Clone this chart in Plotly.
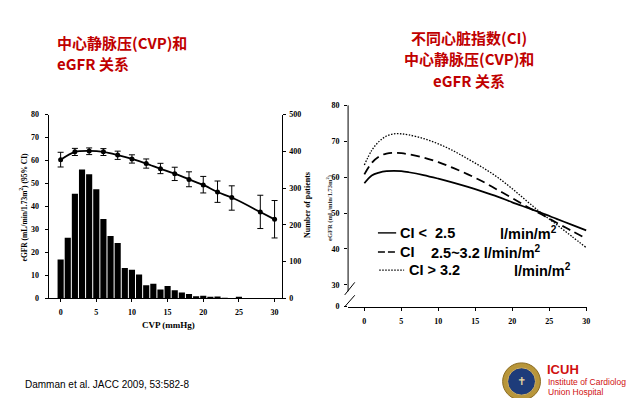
import plotly.graph_objects as go

W, H = 634, 398

# ---------------- data ----------------
# left chart: histogram of patients per CVP bin (right axis) and eGFR mean with 95% CI
cvp_bins = list(range(0, 26))
patients = [106, 165, 285, 351, 338, 297, 216, 170, 151, 83, 78, 65, 36, 40, 24, 34,
            22, 16, 12, 6, 7, 3, 5, 1, 0, 4]

cvp_pts = [0, 2, 4, 6, 8, 10, 12, 14, 16, 18, 20, 22, 24, 28, 30]
egfr_mean = [60.4, 63.8, 64.2, 63.8, 62.4, 60.7, 58.7, 56.4, 54.3, 51.8, 49.4, 46.3, 43.9, 37.6, 34.4]
egfr_upper = [63.6, 65.3, 65.5, 65.2, 64.1, 62.5, 60.7, 58.8, 57.1, 55.1, 53.1, 51.1, 49.0, 44.9, 42.6]
egfr_lower = [57.2, 62.2, 62.6, 62.2, 60.5, 58.9, 56.7, 54.3, 51.3, 48.6, 45.9, 41.8, 38.4, 30.4, 26.3]

left_xticks = [0, 5, 10, 15, 20, 25, 30]
left_yticks = [0, 10, 20, 30, 40, 50, 60, 70, 80]
right_axis_ticks = [0, 100, 200, 300, 400, 500]

# right chart: eGFR vs CVP by cardiac index group
cvp_curve = [0, 1, 2, 3, 4, 5, 6, 8, 10, 12, 14, 16, 18, 20, 22, 24, 26, 28, 30]
egfr_ci_low = [58.3, 60.5, 61.3, 61.7, 61.8, 61.7, 61.4, 60.6, 59.6, 58.5, 57.3, 56.0, 54.6, 53.0, 51.5, 50.0, 48.4, 46.8, 45.2]
egfr_ci_mid = [60.8, 64.0, 65.8, 66.6, 66.8, 66.7, 66.4, 65.5, 64.2, 62.6, 60.8, 58.8, 56.5, 54.2, 51.8, 49.6, 47.3, 45.1, 42.9]
egfr_ci_high = [63.4, 67.5, 70.0, 71.5, 72.1, 72.1, 71.8, 70.8, 69.3, 67.4, 65.1, 62.7, 60.0, 56.8, 53.3, 49.9, 46.8, 43.6, 40.4]

ci_names = ["CI <\u00a0\u00a02.5", "CI", "CI > 3.2"]
ci_units = ["l/min/m<sup>2</sup>", "2.5~3.2 l/min/m<sup>2</sup>", "l/min/m<sup>2</sup>"]

right_xticks = [0, 5, 10, 15, 20, 25, 30]
right_yticks = [24, 30, 40, 50, 60, 70, 80]
right_yticktext = ["0", "30", "40", "50", "60", "70", "80"]

# ---------------- helpers ----------------
def px(x):
    return x / W

def py(y):
    return 1 - y / H

RED = "#C00000"
SERIF = "Liberation Serif"
CJK = "Noto Sans CJK SC"
SANS = "Liberation Sans"

fig = go.Figure()

fig.add_trace(go.Bar(
    x=cvp_bins, y=patients, yaxis="y2", xaxis="x",
    marker=dict(color="black", line=dict(width=0)), width=0.86,
    showlegend=False,
))

fig.add_trace(go.Scatter(
    x=cvp_pts, y=egfr_mean, xaxis="x", yaxis="y",
    mode="lines+markers",
    line=dict(color="black", width=1.8, shape="spline", smoothing=0.8),
    marker=dict(color="black", size=5),
    error_y=dict(type="data", symmetric=False,
                 array=[u - m for u, m in zip(egfr_upper, egfr_mean)],
                 arrayminus=[m - l for m, l in zip(egfr_mean, egfr_lower)],
                 color="black", thickness=1, width=3),
    showlegend=False,
))

fig.add_trace(go.Scatter(
    x=cvp_curve, y=egfr_ci_low, xaxis="x2", yaxis="y3", mode="lines",
    line=dict(color="black", width=1.7, shape="spline"), showlegend=False))
fig.add_trace(go.Scatter(
    x=cvp_curve, y=egfr_ci_mid, xaxis="x2", yaxis="y3", mode="lines",
    line=dict(color="black", width=1.8, dash="9px,5px", shape="spline"), showlegend=False))
fig.add_trace(go.Scatter(
    x=cvp_curve, y=egfr_ci_high, xaxis="x2", yaxis="y3", mode="lines",
    line=dict(color="black", width=1.3, dash="1.5px,1.5px", shape="spline"), showlegend=False))

tickfont = dict(family=SERIF, size=8, color="black", weight="bold")
axis_common = dict(showgrid=False, zeroline=False, showline=True, linecolor="black",
                   linewidth=1, ticks="outside", ticklen=3, tickwidth=1,
                   tickcolor="black", tickfont=tickfont)

shapes = []
# right chart y axis line (broken)
shapes.append(dict(type="line", xref="x2 domain", yref="y3", x0=0, x1=0, y0=28.2, y1=80.1,
                   line=dict(color="black", width=1)))
# break marks
shapes.append(dict(type="line", xref="x2 domain", yref="y3", x0=-0.014, x1=0.028, y0=27.2, y1=30.7,
                   line=dict(color="black", width=1)))
shapes.append(dict(type="line", xref="x2 domain", yref="y3", x0=-0.014, x1=0.028, y0=23.9, y1=27.1,
                   line=dict(color="black", width=1)))

# legend line samples for right chart
leg_rows_y = [226, 245.5, 264]
leg_dash = ["solid", "7px,3px", "1.5px,1.5px"]
leg_x = [(371.7, 390), (371.7, 390), (373, 398)]
leg_w = [1.4, 1.4, 1.2]
for (x0, x1), yy, d, lw in zip(leg_x, leg_rows_y, leg_dash, leg_w):
    shapes.append(dict(type="line", xref="paper", yref="paper", x0=px(x0), x1=px(x1),
                       y0=py(yy), y1=py(yy), line=dict(color="black", width=lw, dash=d)))

# logo
shapes.append(dict(type="circle", xref="paper", yref="paper",
                   x0=px(497), x1=px(535), y0=py(397), y1=py(359),
                   fillcolor="#B8963A", line=dict(color="#8A6A20", width=1)))
shapes.append(dict(type="circle", xref="paper", yref="paper",
                   x0=px(502), x1=px(530), y0=py(392), y1=py(364),
                   fillcolor="#1E3C7A", line=dict(color="#D4B060", width=1)))

annotations = []
# titles
annotations.append(dict(text="<b>中心静脉压(CVP)和</b>", x=px(47), y=py(31), xref="paper", yref="paper",
                        xanchor="left", yanchor="middle", showarrow=False,
                        font=dict(family=CJK, size=15, color=RED)))
annotations.append(dict(text="<b>eGFR 关系</b>", x=px(47), y=py(53), xref="paper", yref="paper",
                        xanchor="left", yanchor="middle", showarrow=False,
                        font=dict(family=CJK, size=15, color=RED)))
for t, yy in zip(["不同心脏指数(CI)", "中心静脉压(CVP)和", "eGFR 关系"], [26, 48, 70]):
    annotations.append(dict(text="<b>" + t + "</b>", x=px(463), y=py(yy), xref="paper", yref="paper",
                            xanchor="center", yanchor="middle", showarrow=False,
                            font=dict(family=CJK, size=15, color=RED)))

# axis titles (left chart)
annotations.append(dict(text="<b>eGFR (mL/min/1.73m<sup>2</sup>) (95% CI)</b>", x=px(15), y=py(199),
                        xref="paper", yref="paper", textangle=-90, showarrow=False,
                        xanchor="center", yanchor="middle",
                        font=dict(family=SERIF, size=7.5, color="black")))
annotations.append(dict(text="<b>Number of patients</b>", x=px(301), y=py(198),
                        xref="paper", yref="paper", textangle=-90, showarrow=False,
                        xanchor="center", yanchor="middle",
                        font=dict(family=SERIF, size=8, color="black")))
annotations.append(dict(text="<b>CVP (mmHg)</b>", x=px(161), y=py(320),
                        xref="paper", yref="paper", showarrow=False,
                        xanchor="center", yanchor="middle",
                        font=dict(family=SERIF, size=9, color="black")))
# right chart y title (faint, at the edge)
annotations.append(dict(text="<b>eGFR (mL/min/1.73m<sup>2</sup>)</b>", x=px(323), y=py(200),
                        xref="paper", yref="paper", textangle=-90, showarrow=False,
                        xanchor="center", yanchor="middle",
                        font=dict(family=SERIF, size=6.5, color="#333333")))

# right chart legend text
name_x = [392, 392, 401]
unit_x = [492, 423, 506]
for nm, un, yy, nx, ux in zip(ci_names, ci_units, leg_rows_y, name_x, unit_x):
    annotations.append(dict(text="<b>" + nm + "</b>", x=px(nx), y=py(yy), xref="paper", yref="paper",
                            xanchor="left", yanchor="middle", showarrow=False,
                            font=dict(family=SANS, size=14.5, color="black")))
    annotations.append(dict(text="<b>" + un + "</b>", x=px(ux), y=py(yy), xref="paper", yref="paper",
                            xanchor="left", yanchor="middle", showarrow=False,
                            font=dict(family=SANS, size=14.5, color="black")))

# footer
annotations.append(dict(text="Damman et al. JACC 2009, 53:582-8", x=px(15), y=py(381),
                        xref="paper", yref="paper", xanchor="left", yanchor="middle",
                        showarrow=False, font=dict(family=SANS, size=10, color="black")))
annotations.append(dict(text="<b>ICUH</b>", x=px(540), y=py(366), xref="paper", yref="paper",
                        xanchor="left", yanchor="middle", showarrow=False,
                        font=dict(family=SANS, size=13, color="#D01010")))
annotations.append(dict(text="Institute of Cardiology", x=px(541), y=py(379), xref="paper", yref="paper",
                        xanchor="left", yanchor="middle", showarrow=False,
                        font=dict(family=SANS, size=8.5, color="#D01010")))
annotations.append(dict(text="Union Hospital", x=px(541), y=py(389), xref="paper", yref="paper",
                        xanchor="left", yanchor="middle", showarrow=False,
                        font=dict(family=SANS, size=8.5, color="#D01010")))
annotations.append(dict(text="✝", x=px(516), y=py(378), xref="paper", yref="paper",
                        xanchor="center", yanchor="middle", showarrow=False,
                        font=dict(family="DejaVu Sans", size=11, color="#E8D8A0")))

fig.update_layout(
    width=W, height=H, autosize=False,
    margin=dict(l=0, r=0, t=0, b=0),
    paper_bgcolor="white", plot_bgcolor="rgba(0,0,0,0)",
    bargap=0.1,
    xaxis=dict(domain=[px(40.7), px(275)], range=[-1.7, 31], anchor="y",
               tickvals=left_xticks, ticklabelstandoff=3, **axis_common),
    yaxis=dict(domain=[py(293), py(105)], range=[0, 80], anchor="x",
               tickvals=left_yticks, ticklabelstandoff=4, **axis_common),
    yaxis2=dict(overlaying="y", side="right", anchor="x", range=[0, 500],
                tickvals=right_axis_ticks, ticklabelstandoff=2, **axis_common),
    xaxis2=dict(domain=[px(341.7), px(581.7)], range=[-2.2, 30.1], anchor="y3",
                tickvals=right_xticks, ticklabelstandoff=3, **axis_common),
    yaxis3=dict(domain=[py(302.3), py(95.3)], range=[23.7, 80.1], anchor="x2",
                tickvals=right_yticks, ticktext=right_yticktext, ticklabelstandoff=3,
                **{**axis_common, "showline": False}),
    shapes=shapes,
    annotations=annotations,
)

fig.write_html("out.html")
